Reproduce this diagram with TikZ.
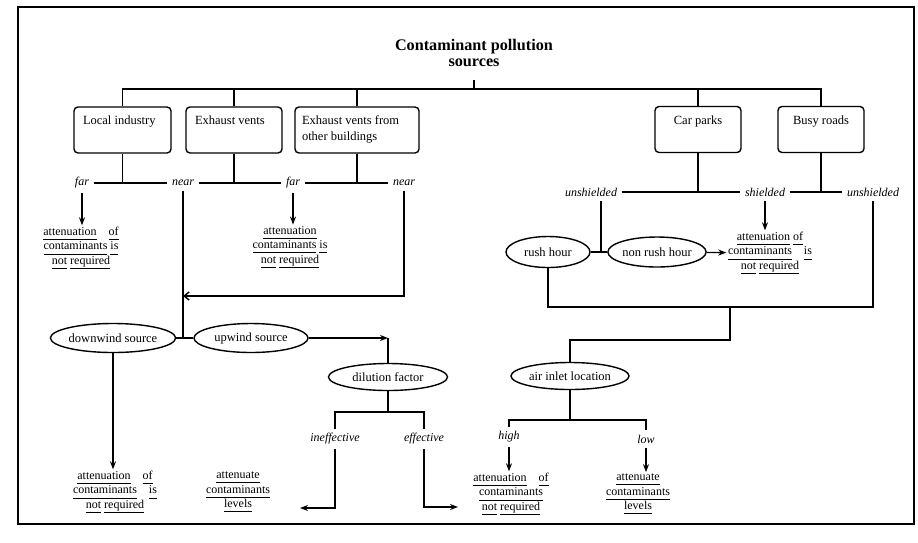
\documentclass[tikz,border=0pt]{standalone}
\usepackage{fontspec}
\setmainfont{Liberation Serif}
\usetikzlibrary{shapes.geometric,arrows.meta}

\newcommand{\uw}[1]{\underline{\vphantom{q}#1}}

\tikzset{
  srcbox/.style={draw, rounded corners=4pt, minimum height=46pt},
  lefttext/.style={anchor=north west, inner sep=0pt, align=left, xshift=9pt, yshift=-9pt,
    font=\fontsize{12.5}{15.5}\selectfont},
  midtext/.style={anchor=north, inner sep=0pt, yshift=-9pt, font=\fontsize{12.5}{15.5}\selectfont},
  branch/.style={font=\itshape\fontsize{12}{14}\selectfont, inner sep=4pt},
  oval/.style={draw, ellipse, inner sep=0pt, minimum height=29pt, font=\fontsize{12.5}{14}\selectfont},
  result/.style={align=center, inner sep=1pt, font=\fontsize{12}{14.5}\selectfont},
  title/.style={align=center, font=\bfseries\fontsize{16.2}{15.5}\selectfont},
  arr/.style={-{Stealth[length=8pt,width=6pt]}},
  barb/.style={-{Straight Barb[length=5pt,width=8pt]}},
}

\begin{document}
\begin{tikzpicture}[x=1pt,y=-1pt,line width=1.4pt]
\useasboundingbox (0,0) rectangle (918,542);
\draw[line width=2pt] (18,7) rectangle (914,524);

\node[title] (title) at (474,53) {Contaminant pollution\\sources};
\coordinate (bus) at (476,89);
\node[srcbox, minimum width=97pt, label={[lefttext]north west:Local industry}] (local) at (122.5,130) {};
\node[srcbox, minimum width=96pt, label={[lefttext]north west:Exhaust vents}] (vents) at (234,130) {};
\node[srcbox, minimum width=124pt, label={[lefttext, xshift=-2pt]north west:{Exhaust vents from\\other buildings}}] (other) at (357,130) {};
\node[srcbox, minimum width=86pt, label={[midtext]north:Car parks}] (parks) at (698,129.5) {};
\node[srcbox, minimum width=86pt, label={[midtext]north:Busy roads}] (roads) at (821,129.5) {};
\draw[shorten <=9pt] (title.south) -- (title.south |- bus);
\draw (local) -- (local |- bus) -| (roads);
\draw (vents) -- (vents |- bus);
\draw (other) -- (other |- bus);
\draw (parks) -- (parks |- bus);

\node[branch] (far1) at (82,183) {far};
\node[branch] (near1) at (183,183) {near};
\node[branch] (far2) at (293,183) {far};
\node[branch] (near2) at (404,183) {near};
\draw (far1) -- (near1);
\draw (near1) -- (far2);
\draw (far2) -- (near2);
\draw (local) -- (local |- far1);
\draw (vents) -- (vents |- far1);
\draw (other) -- (other |- far1);

\node[result] (res1) at (81,248) {\uw{attenuation}\quad\uw{of}\\\uw{contaminants}~\uw{is}\\\uw{not}~\uw{required}};
\node[result] (res2) at (290,247) {\uw{attenuation}\\\uw{contaminants}~\uw{is}\\\uw{not}~\uw{required}};
\draw[arr] (far1) -- (far1 |- res1.north);
\draw[arr] (far2) -- (far2 |- res2.north);

\node[oval, minimum width=119pt] (down) at (113,338) {downwind source};
\node[oval, minimum width=114pt] (up) at (251,338) {upwind source};
\coordinate (merge) at (183,296);
\draw (down) -- (up);
\draw (near1) -- (near1 |- down);
\draw[barb] (near2) |- (merge);

\coordinate (dtop) at (388,338);
\node[oval, minimum width=119pt, minimum height=27pt] (dil) at (388,377) {dilution factor};
\draw[arr] (up) -- (dtop);
\draw (dtop) -- (dil);
\coordinate (dbar) at (388,412);
\node[branch] (ineff) at (335,439) {ineffective};
\node[branch] (eff) at (424,439) {effective};
\draw (dil) -- (dbar);
\draw (ineff) |- (dbar) -| (eff);
\coordinate (ineffend) at (300,508);
\coordinate (effend) at (458,507);
\draw[arr] (ineff) |- (ineffend);
\draw[arr] (eff) |- (effend);

\node[result] (res3) at (115,492) {\uw{attenuation}\quad\uw{of}\\\uw{contaminants}\quad\uw{is}\\\uw{not}~\uw{required}};
\node[result] (res4) at (238,492) {\uw{attenuate}\\\uw{contaminants}\\\uw{levels}};
\draw[arr] (down) -- (down |- res3.north);

\node[branch] (unsh1) at (591,192) {unshielded};
\node[branch] (sh) at (765,192) {shielded};
\node[branch] (unsh2) at (873,192) {unshielded};
\draw (unsh1) -- (sh);
\draw (sh) -- (unsh2);
\draw (parks) -- (parks |- sh);
\draw (roads) -- (roads |- sh);

\node[oval, minimum width=84pt, minimum height=31pt] (rush) at (548,252) {rush hour};
\node[oval, minimum width=92pt, minimum height=30pt] (nonrush) at (657,252) {non rush hour};
\coordinate (rj) at (601,252);
\draw (rush) -- (nonrush);
\draw (unsh1.south -| rj) -- (rj);
\node[result] (res6) at (770,253) {\uw{attenuation}~\uw{of}\\\uw{contaminants}\quad\uw{is}\\\uw{not}~\uw{required}};
\draw[arr] (nonrush) -- (res6);
\draw[arr] (sh) -- (sh |- res6.north);

\coordinate (collect) at (730,307);
\draw (rush) |- (collect) -| (unsh2);
\node[oval, minimum width=118pt, minimum height=27pt] (air) at (570,376) {air inlet location};
\draw (collect) -- ++(0,33) -| (air);
\coordinate (abar) at (570,420);
\node[branch] (high) at (509,437) {high};
\node[branch] (low) at (646,439) {low};
\draw (air) -- (abar);
\draw (high) |- (abar) -| (low);
\node[result] (res5) at (511,494) {\uw{attenuation}\quad\uw{of}\\\uw{contaminants}\\\uw{not}~\uw{required}};
\node[result] (res8) at (638,494) {\uw{attenuate}\\\uw{contaminants}\\\uw{levels}};
\draw[arr] (high) -- (high |- res5.north);
\draw[arr] (low) -- (low |- res8.north);
\end{tikzpicture}
\end{document}
